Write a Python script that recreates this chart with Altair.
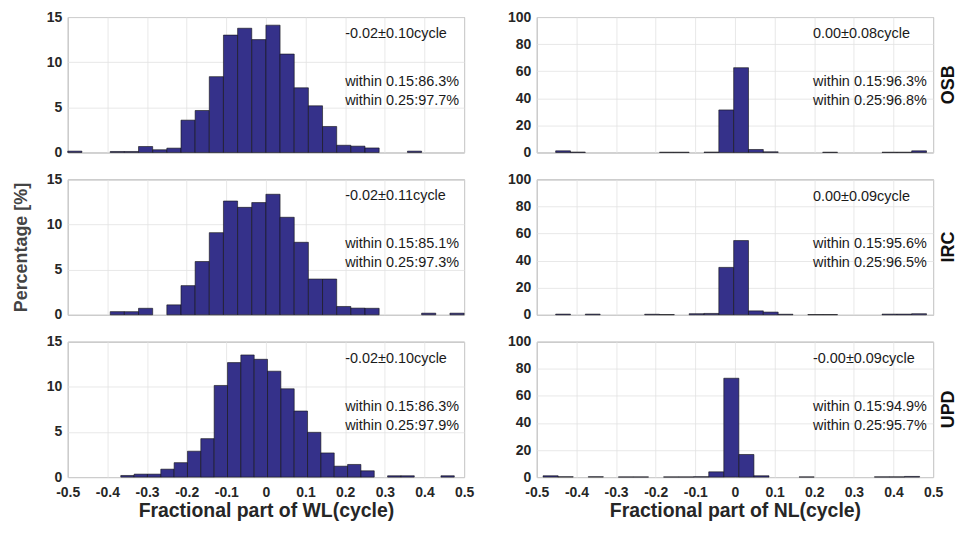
import altair as alt
import pandas as pd

FONT = "Liberation Sans"
BAR_FILL = "#35318a"

# ---------------- data (percentages per histogram bin) ----------------
# WL histograms
WL_OSB_START, WL_OSB_WIDTH = -0.5, 1 / 28
WL_OSB_PCT = [0.15, 0, 0, 0.11, 0.11, 0.66, 0.3, 0.48, 3.58, 4.65, 8.4, 13.0, 13.76, 12.5,
              14.1, 10.9, 7.16, 5.17, 2.88, 0.8, 0.7, 0.5, 0, 0, 0.15, 0, 0, 0]

WL_IRC_START, WL_IRC_WIDTH = -0.5, 1 / 28
WL_IRC_PCT = [0, 0, 0, 0.35, 0.35, 0.72, 0, 1.1, 3.23, 5.9, 9.1, 12.6, 11.9, 12.43,
              13.35, 10.8, 8.03, 3.96, 3.96, 0.92, 0.74, 0.72, 0, 0, 0, 0.18, 0, 0.18]

WL_UPD_START, WL_UPD_WIDTH = -0.3662, 0.03366
WL_UPD_PCT = [0.18, 0.33, 0.33, 0.88, 1.6, 2.87, 4.26, 10.15, 12.68, 13.53, 13.05, 11.73,
              9.78, 7.32, 4.96, 2.68, 1.21, 1.4, 0.7, 0, 0.15, 0.15, 0, 0, 0.15]

# NL histograms
NL_OSB_START, NL_OSB_WIDTH = -0.4524, 0.03743
NL_OSB_PCT = [1.2, 0.3, 0, 0, 0, 0, 0, 0.2, 0.2, 0, 0.3, 31.4, 62.6, 2.2, 0.5, 0, 0, 0,
              0.2, 0, 0, 0, 0.2, 0.2, 1.2]

NL_IRC_START, NL_IRC_WIDTH = -0.4524, 0.03743
NL_IRC_PCT = [0.5, 0, 0.5, 0, 0, 0, 0.4, 0.2, 0, 0.8, 1.0, 35.0, 54.8, 2.9, 2.0, 0.4, 0,
              0.2, 0.2, 0, 0, 0, 0.5, 0.5, 0.8]

NL_UPD_START, NL_UPD_WIDTH = -0.4841, 0.038
NL_UPD_PCT = [1.0, 0.3, 0, 0.3, 0, 0.15, 0.15, 0, 0.15, 0.15, 0.3, 3.9, 73.0, 16.7, 1.0,
              0, 0, 0.15, 0, 0, 0, 0, 0.2, 0.2, 0.5]

# annotation texts
WL_TEXTS = [
    ["-0.02±0.10cycle", "within 0.15:86.3%", "within 0.25:97.7%"],
    ["-0.02±0.11cycle", "within 0.15:85.1%", "within 0.25:97.3%"],
    ["-0.02±0.10cycle", "within 0.15:86.3%", "within 0.25:97.9%"],
]
NL_TEXTS = [
    ["0.00±0.08cycle", "within 0.15:96.3%", "within 0.25:96.8%"],
    ["0.00±0.09cycle", "within 0.15:95.6%", "within 0.25:96.5%"],
    ["-0.00±0.09cycle", "within 0.15:94.9%", "within 0.25:95.7%"],
]
ROW_LABELS = ["OSB", "IRC", "UPD"]

XTICKS = [-0.5, -0.4, -0.3, -0.2, -0.1, 0, 0.1, 0.2, 0.3, 0.4, 0.5]
WL_YTICKS = [0, 5, 10, 15]
NL_YTICKS = [0, 20, 40, 60, 80, 100]

W, H = 398, 136


def bins_df(start, width, pct):
    rows = []
    for i, v in enumerate(pct):
        if v > 0:
            x0 = start + i * width
            rows.append({"x0": x0, "x1": x0 + width, "pct": v, "base": 0})
    return pd.DataFrame(rows)


def panel(df, texts, ymax, yticks, text_x, text_ys, row_label=None,
          xtitle=None, ytitle=None, show_xlabels=False):
    xaxis = alt.Axis(values=XTICKS, labels=show_xlabels, title=xtitle,
                     labelExpr="datum.value == 0 ? '0' : (datum.value < 0 ? '-' : '') + format(abs(datum.value), '.1f')",
                     labelOverlap=False, labelFlush=False, labelPadding=8,
                     titleFontSize=19.5, titlePadding=3)
    yaxis = alt.Axis(values=yticks, title=ytitle, format="d", labelOverlap=False,
                     titleFontSize=18, titlePadding=16, titleColor="#444444")
    xenc = alt.X("x0:Q", scale=alt.Scale(domain=[-0.5, 0.5], nice=False, zero=False), axis=xaxis)
    yenc = alt.Y("pct:Q", scale=alt.Scale(domain=[0, ymax], nice=False), axis=yaxis)
    bars = alt.Chart(df).mark_rect(fill=BAR_FILL, stroke="#111111", strokeWidth=0.6).encode(
        x=xenc, x2="x1:Q", y=yenc, y2="base:Q"
    )
    tdf = pd.DataFrame({"x0": [text_x] * 3, "pct": text_ys, "text": texts})
    txt = alt.Chart(tdf).mark_text(align="left", baseline="middle", font=FONT,
                                   fontSize=14.5, color="#1a1a1a").encode(
        x=xenc, y=yenc, text="text:N"
    )
    layers = [bars, txt]
    if row_label:
        lab = alt.Chart(pd.DataFrame({"label": [row_label]})).mark_text(
            angle=270, align="center", baseline="middle", font=FONT, fontSize=18,
            fontWeight="bold", color="#111111"
        ).encode(x=alt.value(W + 16), y=alt.value(H / 2), text="label:N")
        layers.append(lab)
    return alt.layer(*layers).properties(width=W, height=H)


wl = [(WL_OSB_START, WL_OSB_WIDTH, WL_OSB_PCT),
      (WL_IRC_START, WL_IRC_WIDTH, WL_IRC_PCT),
      (WL_UPD_START, WL_UPD_WIDTH, WL_UPD_PCT)]
nl = [(NL_OSB_START, NL_OSB_WIDTH, NL_OSB_PCT),
      (NL_IRC_START, NL_IRC_WIDTH, NL_IRC_PCT),
      (NL_UPD_START, NL_UPD_WIDTH, NL_UPD_PCT)]

panels = []
for r in range(3):
    last = r == 2
    left = panel(bins_df(*wl[r]), WL_TEXTS[r], 15, WL_YTICKS, 0.2, [13.1, 7.8, 5.7],
                 xtitle="Fractional part of WL(cycle)" if last else None,
                 ytitle="Percentage [%]" if r == 1 else None,
                 show_xlabels=last)
    right = panel(bins_df(*nl[r]), NL_TEXTS[r], 100, NL_YTICKS, 0.197, [87.3, 52, 38],
                  row_label=ROW_LABELS[r],
                  xtitle="Fractional part of NL(cycle)" if last else None,
                  show_xlabels=last)
    panels += [left, right]

chart = alt.concat(*panels, columns=2, spacing={"row": 27, "column": 73}, bounds="flush").properties(
    padding={"left": 3, "top": 0, "right": 0, "bottom": 0}
).configure_view(stroke="#8f8f8f", strokeWidth=1).configure_axis(
    labelFont=FONT, labelFontSize=14, labelFontWeight="bold", labelColor="#262626",
    titleFont=FONT, titleFontWeight="bold", titleColor="#262626",
    tickSize=0, domain=False, grid=True, gridColor="#e2e2e2", gridWidth=0.8,
    labelPadding=6,
)

chart.save("out.html", embed_options={"renderer": "svg", "actions": False})
